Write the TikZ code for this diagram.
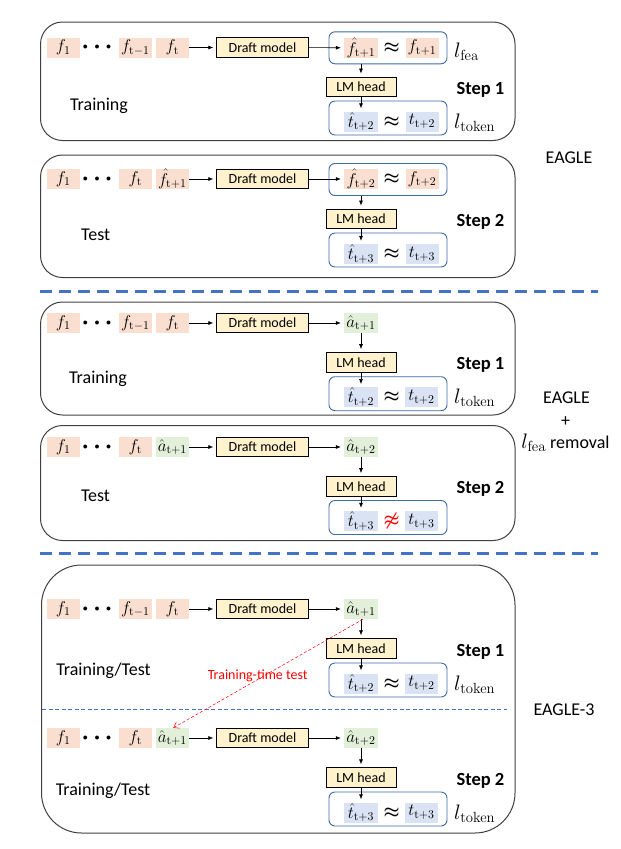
\RequirePackage{fix-cm}
\documentclass[tikz,border=0pt]{standalone}
\usepackage[no-math]{fontspec}
\setmainfont{Carlito}
\usetikzlibrary{arrows.meta}

\definecolor{feafill}{HTML}{FADFD0}
\definecolor{tokfill}{HTML}{DAE3F3}
\definecolor{actfill}{HTML}{E2F0D9}
\definecolor{dmfill}{HTML}{FFF2CC}
\definecolor{grpblue}{HTML}{3E6AA8}
\definecolor{sepblue}{HTML}{4472C4}
\definecolor{panelgray}{HTML}{404040}
\definecolor{alarm}{HTML}{FF0000}

\newcommand\mfont{\fontsize{17}{19}\selectfont}
\newcommand\ellipsisdots{\fontsize{10}{12}\selectfont$\bullet$\hspace{6.6pt}$\bullet$\hspace{6.6pt}$\bullet$}

\begin{document}
\begin{tikzpicture}[x=1pt,y=-1pt,
  tok/.style={inner sep=0pt, minimum width=33pt, minimum height=20pt, font=\mfont},
  fea/.style={tok, fill=feafill},
  tkn/.style={tok, fill=tokfill},
  act/.style={tok, fill=actfill},
  dots/.style={inner sep=0pt},
  blk/.style={draw=black, line width=0.8pt, fill=dmfill, inner sep=0pt,
    minimum height=19.5pt, font=\fontsize{14}{16}\selectfont},
  dm/.style={blk, minimum width=91.5pt},
  lmh/.style={blk, minimum width=70pt},
  grp/.style={draw=grpblue, line width=0.9pt, rounded corners=6pt,
    minimum width=118pt, inner sep=0pt},
  apx/.style={inner sep=0pt, font=\fontsize{18}{20}\selectfont\boldmath},
  loss/.style={inner sep=0pt, font=\fontsize{21}{23}\selectfont},
  lbl/.style={inner sep=0pt, font=\fontsize{18}{20}\selectfont},
  steplbl/.style={inner sep=0pt, font=\fontsize{18.5}{20}\selectfont\bfseries},
  panel/.style={draw=panelgray, line width=1pt},
  flow/.style={-{Latex[length=5pt,width=4pt]}, line width=0.6pt, shorten >=3pt},
  sep/.style={draw=sepblue, line width=3pt, dash pattern=on 12pt off 7pt},
  thinsep/.style={draw=sepblue, line width=0.6pt, dash pattern=on 4pt off 2.5pt},
  ttt/.style={draw=alarm, line width=0.5pt, dash pattern=on 3pt off 2pt,
    -{Straight Barb[length=5pt,width=7pt]}},
]
\useasboundingbox (0,0) rectangle (621,849);

% ---------------- EAGLE, step 1 (training) ----------------
\draw[panel, rounded corners=22pt] (40.5,22) rectangle (515,140.5);
\node[fea] (p1f1) at (63.3,47.5) {$f_1$};
\node[dots] (p1d) at (97,47.5) {\ellipsisdots};
\node[fea] (p1fa) at (135.3,47.5) {$f_{\mathrm{t-1}}$};
\node[fea] (p1fb) at (172.3,47.5) {$f_{\mathrm{t}}$};
\node[dm] (p1dm) at (262.5,47.5) {Draft model};
\node[grp, minimum height=32pt] (p1g) at (388,47.8) {};
\node[fea, minimum width=34pt] (p1h) at (361,47.8) {$\hat{f}_{\mathrm{t+1}}$};
\node[apx] (p1x) at (391.7,47.8) {$\approx$};
\node[fea] (p1r) at (422,47.8) {$f_{\mathrm{t+1}}$};
\node[loss, anchor=base west] (p1lf) at (454,57) {$l_{\mathrm{fea}}$};
\node[lmh] (p1lm) at (361,86.7) {LM head};
\node[steplbl, anchor=base] (p1s) at (480.5,94) {Step 1};
\node[grp, minimum height=34pt] (p1G) at (388,118) {};
\node[tkn, minimum width=34pt] (p1th) at (361,121.5) {$\hat{t}_{\mathrm{t+2}}$};
\node[apx] (p1y) at (391.7,121.5) {$\approx$};
\node[tkn] (p1t) at (422,121.5) {$t_{\mathrm{t+2}}$};
\node[loss, anchor=base west] (p1lt) at (454,128.5) {$l_{\mathrm{token}}$};
\node[lbl, anchor=base] (p1lab) at (99,110.7) {Training};
\draw[flow] (p1fb) -- (p1dm);
\draw[flow] (p1dm) -- (p1h);
\draw[flow] (p1g.south -| p1h) -- (p1lm.north -| p1h);
\draw[flow] (p1lm.south -| p1th) -- (p1th.north);

% ---------------- EAGLE, step 2 (test) ----------------
\draw[panel, rounded corners=22pt] (40.5,155) rectangle (515,277.5);
\node[fea] (p2f1) at (63.3,179) {$f_1$};
\node[dots] (p2d) at (97,179) {\ellipsisdots};
\node[fea] (p2fa) at (135.3,179) {$f_{\mathrm{t}}$};
\node[fea] (p2fb) at (172.3,179) {$\hat{f}_{\mathrm{t+1}}$};
\node[dm] (p2dm) at (262.5,179) {Draft model};
\node[grp, minimum height=32pt] (p2g) at (388,179.5) {};
\node[fea, minimum width=34pt] (p2h) at (361,179) {$\hat{f}_{\mathrm{t+2}}$};
\node[apx] (p2x) at (391.7,179) {$\approx$};
\node[fea] (p2r) at (422,179) {$f_{\mathrm{t+2}}$};
\node[lmh] (p2lm) at (361,218.7) {LM head};
\node[steplbl, anchor=base] (p2s) at (480.5,226.2) {Step 2};
\node[grp, minimum height=34pt] (p2G) at (388,250) {};
\node[tkn, minimum width=34pt] (p2th) at (361,254) {$\hat{t}_{\mathrm{t+3}}$};
\node[apx] (p2y) at (391.7,254) {$\approx$};
\node[tkn] (p2t) at (422,254) {$t_{\mathrm{t+3}}$};
\node[lbl, anchor=base] (p2lab) at (95.7,240.7) {Test};
\draw[flow] (p2fb) -- (p2dm);
\draw[flow] (p2dm) -- (p2h);
\draw[flow] (p2g.south -| p2h) -- (p2lm.north -| p2h);
\draw[flow] (p2lm.south -| p2th) -- (p2th.north);

\node[lbl, anchor=base] (eagle) at (569,163) {EAGLE};

\draw[sep] (40,291) -- (598,291);

% ---------------- EAGLE without l_fea, step 1 ----------------
\draw[panel, rounded corners=22pt] (40.5,302) rectangle (515,415);
\node[fea] (p3f1) at (63.3,323) {$f_1$};
\node[dots] (p3d) at (97,323) {\ellipsisdots};
\node[fea] (p3fa) at (135.3,323) {$f_{\mathrm{t-1}}$};
\node[fea] (p3fb) at (172.3,323) {$f_{\mathrm{t}}$};
\node[dm] (p3dm) at (262.5,323) {Draft model};
\node[act, minimum width=34pt] (p3a) at (361,323) {$\hat{a}_{\mathrm{t+1}}$};
\node[lmh] (p3lm) at (361,362.3) {LM head};
\node[steplbl, anchor=base] (p3s) at (480.5,369.8) {Step 1};
\node[grp, minimum height=34pt] (p3G) at (388,393.7) {};
\node[tkn, minimum width=34pt] (p3th) at (361,397.2) {$\hat{t}_{\mathrm{t+2}}$};
\node[apx] (p3y) at (391.7,397.2) {$\approx$};
\node[tkn] (p3t) at (421.5,397.2) {$t_{\mathrm{t+2}}$};
\node[loss, anchor=base west] (p3lt) at (454,403.5) {$l_{\mathrm{token}}$};
\node[lbl, anchor=base] (p3lab) at (98,383) {Training};
\draw[flow] (p3fb) -- (p3dm);
\draw[flow] (p3dm) -- (p3a);
\draw[flow] (p3a) -- (p3lm);
\draw[flow] (p3lm.south -| p3th) -- (p3th.north);

% ---------------- EAGLE without l_fea, step 2 ----------------
\draw[panel, rounded corners=22pt] (40.5,425.5) rectangle (515,540.5);
\node[fea] (p4f1) at (63.3,447) {$f_1$};
\node[dots] (p4d) at (97,447) {\ellipsisdots};
\node[fea] (p4fa) at (135.3,447) {$f_{\mathrm{t}}$};
\node[act] (p4fb) at (172.3,447) {$\hat{a}_{\mathrm{t+1}}$};
\node[dm] (p4dm) at (262.5,447) {Draft model};
\node[act, minimum width=34pt] (p4a) at (361,447) {$\hat{a}_{\mathrm{t+2}}$};
\node[lmh] (p4lm) at (361,486.3) {LM head};
\node[steplbl, anchor=base] (p4s) at (480.5,493.8) {Step 2};
\node[grp, minimum height=34pt] (p4G) at (388,517.5) {};
\node[tkn, minimum width=34pt] (p4th) at (361,521) {$\hat{t}_{\mathrm{t+3}}$};
\node[apx, text=alarm] (p4y) at (391.7,521) {$\not\approx$};
\node[tkn] (p4t) at (421.5,521) {$t_{\mathrm{t+3}}$};
\node[lbl, anchor=base] (p4lab) at (95.5,501.7) {Test};
\draw[flow] (p4fb) -- (p4dm);
\draw[flow] (p4dm) -- (p4a);
\draw[flow] (p4a) -- (p4lm);
\draw[flow] (p4lm.south -| p4th) -- (p4th.north);

\node[lbl, anchor=base] (abl1) at (566.5,403.3) {EAGLE};
\node[lbl] (abl2) at (565.7,421.7) {+};
\node[lbl, anchor=base] (abl3) at (565.5,448)
  {{\fontsize{21}{23}\selectfont$l_{\mathrm{fea}}$} removal};

\draw[sep] (40,553) -- (598,553);

% ---------------- EAGLE-3 ----------------
\draw[panel, rounded corners=40pt] (41.5,565) rectangle (515,833);

% step 1
\node[fea] (p5f1) at (63.3,609) {$f_1$};
\node[dots] (p5d) at (97,609) {\ellipsisdots};
\node[fea] (p5fa) at (135.3,609) {$f_{\mathrm{t-1}}$};
\node[fea] (p5fb) at (172.3,609) {$f_{\mathrm{t}}$};
\node[dm] (p5dm) at (262.5,609) {Draft model};
\node[act, minimum width=34pt] (p5a) at (361,609) {$\hat{a}_{\mathrm{t+1}}$};
\node[lmh] (p5lm) at (361,648.5) {LM head};
\node[steplbl, anchor=base] (p5s) at (480.5,656) {Step 1};
\node[grp, minimum height=34pt] (p5G) at (388,680) {};
\node[tkn, minimum width=34pt] (p5th) at (361,683.5) {$\hat{t}_{\mathrm{t+2}}$};
\node[apx] (p5y) at (391.7,683.5) {$\approx$};
\node[tkn] (p5t) at (421.5,683.5) {$t_{\mathrm{t+2}}$};
\node[loss, anchor=base west] (p5lt) at (454,690.5) {$l_{\mathrm{token}}$};
\node[lbl, anchor=base] (p5lab) at (103.5,675) {Training/Test};
\draw[flow] (p5fb) -- (p5dm);
\draw[flow] (p5dm) -- (p5a);
\draw[flow] (p5a) -- (p5lm);
\draw[flow] (p5lm.south -| p5th) -- (p5th.north);

\draw[thinsep] (42,709.5) -- (507,709.5);

% step 2
\node[fea] (p6f1) at (63.3,738) {$f_1$};
\node[dots] (p6d) at (97,738) {\ellipsisdots};
\node[fea] (p6fa) at (135.3,738) {$f_{\mathrm{t}}$};
\node[act] (p6fb) at (172.3,738) {$\hat{a}_{\mathrm{t+1}}$};
\node[dm] (p6dm) at (262.5,738) {Draft model};
\node[act, minimum width=34pt] (p6a) at (361,738) {$\hat{a}_{\mathrm{t+2}}$};
\node[lmh] (p6lm) at (361,777.5) {LM head};
\node[steplbl, anchor=base] (p6s) at (480.5,785) {Step 2};
\node[grp, minimum height=34pt] (p6G) at (388,809) {};
\node[tkn, minimum width=34pt] (p6th) at (361,812.5) {$\hat{t}_{\mathrm{t+3}}$};
\node[apx] (p6y) at (391.7,812.5) {$\approx$};
\node[tkn] (p6t) at (421.5,812.5) {$t_{\mathrm{t+3}}$};
\node[loss, anchor=base west] (p6lt) at (454,819.5) {$l_{\mathrm{token}}$};
\node[lbl, anchor=base] (p6lab) at (103,795) {Training/Test};
\draw[flow] (p6fb) -- (p6dm);
\draw[flow] (p6dm) -- (p6a);
\draw[flow] (p6a) -- (p6lm);
\draw[flow] (p6lm.south -| p6th) -- (p6th.north);

% the drafted feature is fed back during training
\draw[ttt] ([xshift=2pt]p5a.south) -- ([xshift=1pt]p6fb.north);
\node[inner sep=0pt, anchor=base, text=alarm, font=\fontsize{14}{16}\selectfont]
  (tttlab) at (257.7,679) {Training-time test};

\node[lbl, anchor=base] (eagle3) at (564,715) {EAGLE-3};
\end{tikzpicture}
\end{document}
